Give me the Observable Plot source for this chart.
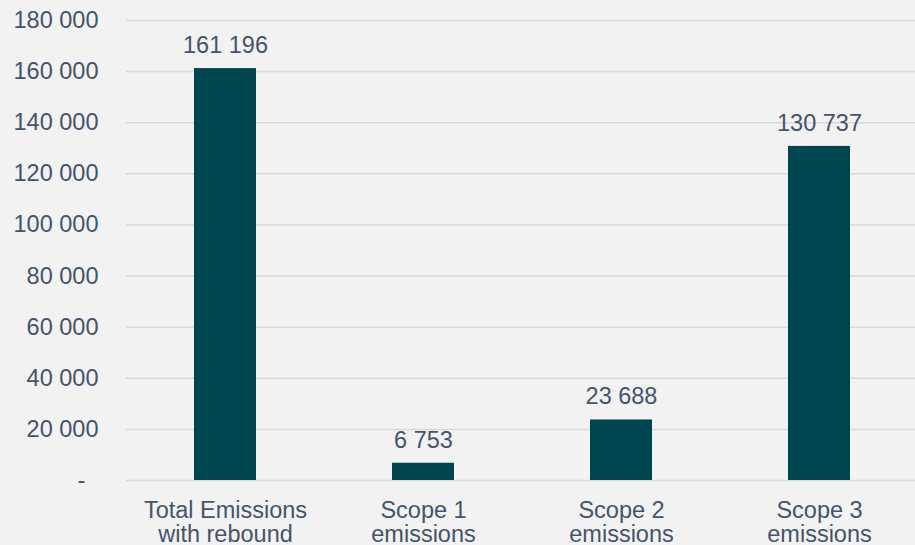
<!DOCTYPE html>
<html>
<head>
<meta charset="utf-8">
<script src="https://cdn.jsdelivr.net/npm/d3@7"></script>
<script src="https://cdn.jsdelivr.net/npm/@observablehq/plot@0.6"></script>
<style>
  html, body { margin: 0; padding: 0; background: #F2F2F2; }
  #chart svg { display: block; }
</style>
</head>
<body>
<div id="chart"></div>
<script>
const categories = ["Total Emissions\nwith rebound", "Scope 1\nemissions", "Scope 2\nemissions", "Scope 3\nemissions"];
const values = [161196, 6753, 23688, 130737];
const yTicks = [0, 20000, 40000, 60000, 80000, 100000, 120000, 140000, 160000, 180000];

const data = categories.map((c, i) => ({category: c, value: values[i]}));
const fmt = d3.formatLocale({decimal: ",", thousands: " ", grouping: [3], currency: ["", ""]}).format(",");
const textColor = "#44546A";
const fs = 23.5;

const chart = Plot.plot({
  width: 915,
  height: 545,
  marginTop: 20,
  marginBottom: 65,
  marginLeft: 126,
  marginRight: 0,
  style: {background: "#F2F2F2", fontFamily: "'Liberation Sans', Arial, sans-serif", fontSize: fs + "px", color: textColor},
  x: {domain: categories, range: [126, 918], paddingInner: 0.687, paddingOuter: 0.3435},
  y: {domain: [0, 180000], range: [480, 20]},
  marks: [
    Plot.ruleY(yTicks, {stroke: "#D9D9D9", strokeWidth: 1.5}),
    Plot.barY(data, {x: "category", y: "value", fill: "#004650"}),
    Plot.text(data, {x: "category", y: "value", text: d => fmt(d.value), dy: -23, lineAnchor: "middle", fill: textColor, fontSize: fs}),
    Plot.axisY({ticks: yTicks, tickSize: 0, tickPadding: 28, tickFormat: d => d === 0 ? "-\u00a0\u00a0" : fmt(d), fill: textColor, fontSize: fs, label: null}),
    Plot.axisX({tickSize: 0, tickPadding: 20.5, fill: textColor, fontSize: fs, lineHeight: 1.03, label: null})
  ]
});
document.getElementById("chart").appendChild(chart);
</script>
</body>
</html>
